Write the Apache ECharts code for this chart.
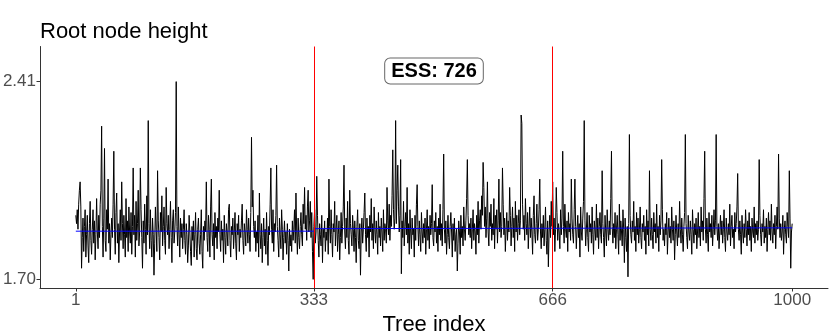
<!DOCTYPE html>
<html>
<head>
<meta charset="utf-8">
<script src="https://cdn.jsdelivr.net/npm/echarts@6/dist/echarts.min.js"></script>
<style>html,body{margin:0;padding:0;background:#fff}#c{width:830px;height:332px}</style>
</head>
<body>
<div id="c"></div>
<script>
// Tree index 1..1000, root node height trace
const trace = [
1.93,1.90,1.95,1.88,1.97,2.02,2.05,1.96,1.74,1.85,1.92,1.80,1.89,1.95,1.78,1.86,1.93,1.82,1.76,1.90,1.98,1.84,1.79,1.88,1.95,1.83,1.91,1.77,1.86,1.99,1.87,1.81,1.93,1.85,1.97,2.02,2.25,1.89,1.78,1.92,2.17,1.84,1.80,1.95,1.88,2.06,1.83,1.90,1.77,1.86,
1.92,1.85,1.97,2.16,1.88,1.79,1.94,2.01,1.83,1.90,1.76,1.87,1.95,1.84,2.05,1.90,1.81,1.93,1.86,1.78,1.99,1.85,1.91,1.80,1.96,1.87,1.83,1.94,1.79,1.89,2.10,1.86,1.93,1.78,1.98,1.84,1.90,2.02,1.82,1.87,2.10,1.95,1.85,1.74,1.91,1.83,1.97,1.88,1.79,2.00,
1.86,2.27,1.90,1.81,1.95,1.84,1.78,1.92,1.86,1.715,1.83,1.96,1.88,1.80,2.09,1.91,1.85,1.77,1.94,1.87,2.00,1.82,1.89,1.96,1.84,1.79,2.03,1.90,1.86,1.93,1.81,1.88,1.98,1.85,1.76,1.91,1.95,1.83,1.87,1.94,2.41,1.89,1.82,1.96,1.86,1.78,1.92,1.85,1.90,1.81,
1.88,1.95,1.84,1.79,1.90,1.86,1.76,1.82,1.93,1.87,1.80,1.75,1.89,1.84,1.91,1.78,1.86,1.94,1.81,1.77,1.88,1.92,1.83,1.79,1.86,1.95,1.80,1.74,1.89,1.84,1.91,1.87,2.05,1.85,1.80,1.93,1.88,1.78,1.96,2.06,1.86,1.82,1.90,1.77,1.94,1.85,1.89,1.81,1.92,1.87,
2.02,1.86,1.80,1.91,1.84,1.88,1.76,1.93,1.85,1.79,1.90,1.87,1.82,1.95,1.97,1.84,1.78,1.89,1.86,1.92,1.81,1.87,1.94,1.83,1.77,1.90,1.86,1.93,1.80,1.88,1.85,1.91,1.97,1.84,1.79,1.90,1.87,1.82,1.95,1.88,1.83,1.92,1.86,1.80,1.94,2.21,1.96,2.02,1.89,1.85,
1.91,1.80,1.87,1.83,1.93,1.78,2.01,1.86,1.81,1.90,1.76,1.85,1.92,1.82,1.88,1.79,1.94,1.84,1.75,1.89,1.86,1.97,2.10,1.88,1.83,1.95,1.80,1.90,1.87,1.93,2.11,1.89,1.84,1.78,1.92,1.86,1.81,1.95,1.88,1.77,1.85,1.91,1.83,1.87,1.79,1.90,1.84,1.73,1.88,1.82,
1.86,1.80,1.91,1.84,1.88,1.95,1.83,2.01,1.87,1.79,1.92,1.85,1.81,1.89,1.94,1.86,1.82,1.97,1.90,2.03,1.88,1.93,1.84,1.96,2.02,1.87,1.91,1.98,1.85,1.94,1.80,1.70,1.89,1.95,1.83,1.87,2.07,1.93,1.84,1.78,1.90,1.86,1.82,1.93,1.76,1.88,1.85,1.91,1.80,1.87,
1.84,1.92,1.79,2.06,1.89,1.83,1.95,1.86,1.78,1.90,1.87,1.98,1.82,1.88,1.93,1.80,1.86,1.91,1.77,1.85,1.94,1.83,1.89,1.96,2.11,1.87,1.81,1.92,1.85,1.98,1.84,1.79,2.02,1.90,1.86,1.82,1.93,1.88,1.80,1.91,1.85,1.76,1.89,1.95,1.84,1.81,1.90,1.715,1.87,1.92,
1.83,1.88,1.94,2.01,1.86,1.80,1.92,1.85,1.89,1.78,1.93,1.87,1.99,1.84,1.90,1.81,1.96,1.88,1.83,1.91,1.86,1.79,1.94,1.85,1.89,1.82,1.92,1.87,1.80,1.95,1.84,1.90,1.88,1.83,2.03,1.91,1.86,1.97,1.84,1.93,1.89,2.00,2.165,1.95,1.88,1.92,2.27,1.90,2.02,2.11,
1.96,1.87,1.93,2.13,1.72,1.91,1.85,1.98,1.82,1.89,1.94,1.86,2.03,1.83,1.90,1.79,1.95,1.87,1.81,1.92,1.86,1.88,1.78,1.93,1.84,1.97,2.04,1.89,1.82,1.91,1.86,1.80,1.94,1.87,1.83,1.90,1.85,1.92,1.79,1.88,1.95,1.84,1.89,1.81,1.93,1.86,1.90,2.04,1.85,1.82,
1.91,1.87,1.94,1.83,1.89,1.80,1.92,1.86,1.97,1.84,1.90,1.82,1.95,2.15,1.88,1.83,1.91,1.79,1.86,1.93,1.85,1.81,1.89,1.94,1.87,1.78,1.90,1.84,1.92,1.80,1.86,1.88,1.73,1.83,1.91,1.87,1.79,1.93,1.85,1.89,1.82,1.96,1.88,1.84,1.91,1.99,2.13,1.93,1.86,1.90,
1.85,1.92,1.81,1.88,1.95,1.84,1.90,1.87,1.79,1.93,1.86,1.98,1.83,1.91,1.95,1.88,2.00,1.93,2.12,2.03,1.89,1.96,1.85,1.92,2.05,1.87,1.82,1.94,1.89,1.97,1.84,1.90,1.86,1.99,1.81,1.93,1.88,1.95,1.83,1.91,2.06,1.87,1.94,1.85,1.89,2.10,1.97,1.86,1.92,1.80,
1.88,1.94,1.84,1.91,1.87,2.03,1.93,1.82,1.89,1.96,1.85,1.92,1.80,1.98,1.87,1.93,1.84,1.90,1.95,1.86,1.91,2.29,2.26,1.97,1.88,1.93,1.84,1.99,1.90,1.86,1.94,1.81,1.89,1.96,1.85,1.92,1.87,1.79,1.93,2.00,1.86,1.83,1.90,1.97,1.84,1.88,1.95,2.06,1.87,1.81,
1.90,1.85,1.93,1.82,1.88,1.96,1.84,1.79,1.91,1.745,1.87,1.93,1.85,1.98,1.89,2.05,1.86,1.92,1.80,1.88,2.03,1.94,1.84,1.90,1.87,1.81,1.95,1.86,1.92,2.16,1.89,1.83,1.97,1.88,1.85,1.91,1.80,1.94,1.87,1.90,1.84,2.06,1.92,1.86,1.83,1.95,2.06,1.89,1.81,1.88,
1.93,1.85,1.90,1.78,1.96,1.87,1.84,1.92,1.98,2.27,1.91,1.82,1.88,1.94,1.85,1.80,1.93,1.87,1.90,1.83,1.96,1.86,1.79,1.91,1.88,1.84,1.97,1.85,1.92,1.81,1.89,1.94,1.86,1.83,2.09,1.90,1.85,1.78,1.93,1.87,1.82,1.95,1.88,1.84,1.91,1.86,1.99,2.16,1.89,1.83,
1.90,1.85,1.94,1.81,1.88,1.93,1.86,1.79,1.97,1.84,1.91,1.87,1.82,1.95,1.88,1.76,1.92,1.85,1.80,1.89,1.709,1.90,2.22,1.93,1.86,1.83,1.91,1.87,1.98,1.84,1.89,1.80,1.94,1.86,1.92,1.83,1.88,1.96,1.85,1.81,1.90,1.87,1.93,1.84,1.89,1.79,1.95,1.86,1.91,1.82,
2.09,1.88,1.84,1.92,1.86,1.81,1.94,1.87,1.90,1.83,1.97,1.85,1.89,1.80,1.93,1.86,1.91,2.13,1.95,1.84,1.88,1.82,1.90,1.86,1.94,1.79,1.87,1.92,1.85,1.89,1.83,1.96,1.88,1.84,1.91,1.77,1.86,1.93,1.87,1.82,1.90,1.85,1.98,1.88,1.83,1.92,1.86,1.80,1.89,1.94,
2.22,1.90,1.85,1.81,1.93,1.87,1.84,1.91,1.86,1.79,1.95,1.88,1.83,1.90,1.86,1.92,1.81,1.87,1.94,1.85,1.89,1.82,1.96,1.87,1.91,1.84,1.99,2.16,1.88,1.83,1.92,1.86,1.80,1.94,1.87,1.90,1.85,1.93,1.82,1.88,1.95,1.86,1.91,2.22,1.89,1.84,1.90,1.81,1.87,1.93,
1.86,1.91,1.83,1.88,1.95,1.85,1.80,1.92,1.87,1.84,1.90,1.86,1.97,1.82,1.89,1.93,1.85,1.88,1.81,1.94,1.87,1.90,1.96,2.08,1.88,1.84,1.91,1.86,1.79,1.93,1.87,1.83,1.90,1.85,1.95,1.88,1.82,1.91,1.86,1.94,1.84,1.89,1.80,1.92,1.87,1.85,1.96,1.83,1.90,1.86,
1.91,1.84,1.88,2.13,1.93,1.86,1.82,1.90,1.87,1.95,1.83,1.89,1.85,1.92,1.80,1.88,1.94,1.86,1.91,1.84,1.97,1.87,1.83,1.90,1.86,1.93,1.81,1.89,1.96,1.88,2.15,1.92,1.85,1.90,1.84,1.87,1.93,1.79,1.88,1.91,1.86,1.83,1.94,1.89,1.85,2.09,1.92,1.74,1.87,1.90
];
// Mean lines (blue): before and after burn-in
const meanPreX = [1, 333];
const meanPreY = [1.873, 1.873];
const meanPostX = [333, 1000];
const meanPostY = [1.882, 1.885];
// Vertical markers (red)
const markerX = [333, 666];
// Axis tick labels
const xTicks = [1, 333, 666, 1000];
const yTicks = [1.70, 2.41];
const yTickLabels = ['1.70', '2.41'];
const essText = 'ESS: 726';
const essPos = [500.5, 2.448];

const font = '"Liberation Sans", Arial, Helvetica, sans-serif';
const chart = echarts.init(document.getElementById('c'), null, {renderer: 'canvas'});
const traceData = trace.map((v, i) => [i + 1, v]);

chart.setOption({
  animation: false,
  backgroundColor: '#fff',
  title: {
    text: 'Root node height', left: 35, top: 16,
    textStyle: {fontFamily: font, fontSize: 22, fontWeight: 'normal', color: '#000'}
  },
  grid: {left: 40, right: 2, top: 46.5, bottom: 44, containLabel: false, outerBoundsMode: 'none'},
  xAxis: {
    type: 'value', min: -48.95, max: 1049.95,
    name: 'Tree index', nameLocation: 'middle', nameGap: 22,
    nameTextStyle: {fontFamily: font, fontSize: 22, color: '#000', verticalAlign: 'top'},
    splitLine: {show: false},
    axisLine: {show: true, onZero: false, lineStyle: {color: '#333', width: 1}},
    axisTick: {show: true, length: 3.5, lineStyle: {color: '#333'}, customValues: xTicks},
    axisLabel: {fontFamily: font, fontSize: 17, color: '#4d4d4d', margin: 4, customValues: xTicks,
      formatter: v => String(v)}
  },
  yAxis: {
    type: 'value', min: 1.669, max: 2.536,
    splitLine: {show: false},
    axisLine: {show: true, onZero: false, lineStyle: {color: '#333', width: 1}},
    axisTick: {show: true, length: 3.5, lineStyle: {color: '#333'}, customValues: yTicks},
    axisLabel: {fontFamily: font, fontSize: 17, color: '#4d4d4d', margin: 4, customValues: yTicks,
      formatter: v => yTickLabels[yTicks.findIndex(t => Math.abs(t - v) < 1e-6)] ?? v.toFixed(2)}
  },
  series: [
    {
      type: 'line', data: traceData, showSymbol: false, symbol: 'none',
      lineStyle: {color: '#000', width: 1}, z: 2,
      markLine: {
        silent: true, symbol: 'none', label: {show: false},
        lineStyle: {color: '#ff0000', width: 1, type: 'solid'},
        data: markerX.map(x => ({xAxis: x})), z: 5
      }
    },
    {
      type: 'line', data: meanPreX.map((x, i) => [x, meanPreY[i]]), showSymbol: false, symbol: 'none',
      lineStyle: {color: '#0000ff', width: 1}, z: 3
    },
    {
      type: 'line', data: meanPostX.map((x, i) => [x, meanPostY[i]]), showSymbol: false, symbol: 'none',
      lineStyle: {color: '#0000ff', width: 1}, z: 3
    }
  ]
});

const p = chart.convertToPixel({gridIndex: 0}, essPos);
chart.setOption({
  graphic: [{
    type: 'text', x: p[0], y: p[1], z: 10,
    style: {
      text: essText, font: 'bold 20px ' + font, fill: '#000',
      align: 'center', verticalAlign: 'middle',
      backgroundColor: '#fff', borderColor: '#666', borderWidth: 1, borderRadius: 5,
      padding: [3, 6, 2, 6]
    }
  }]
});
</script>
</body>
</html>
